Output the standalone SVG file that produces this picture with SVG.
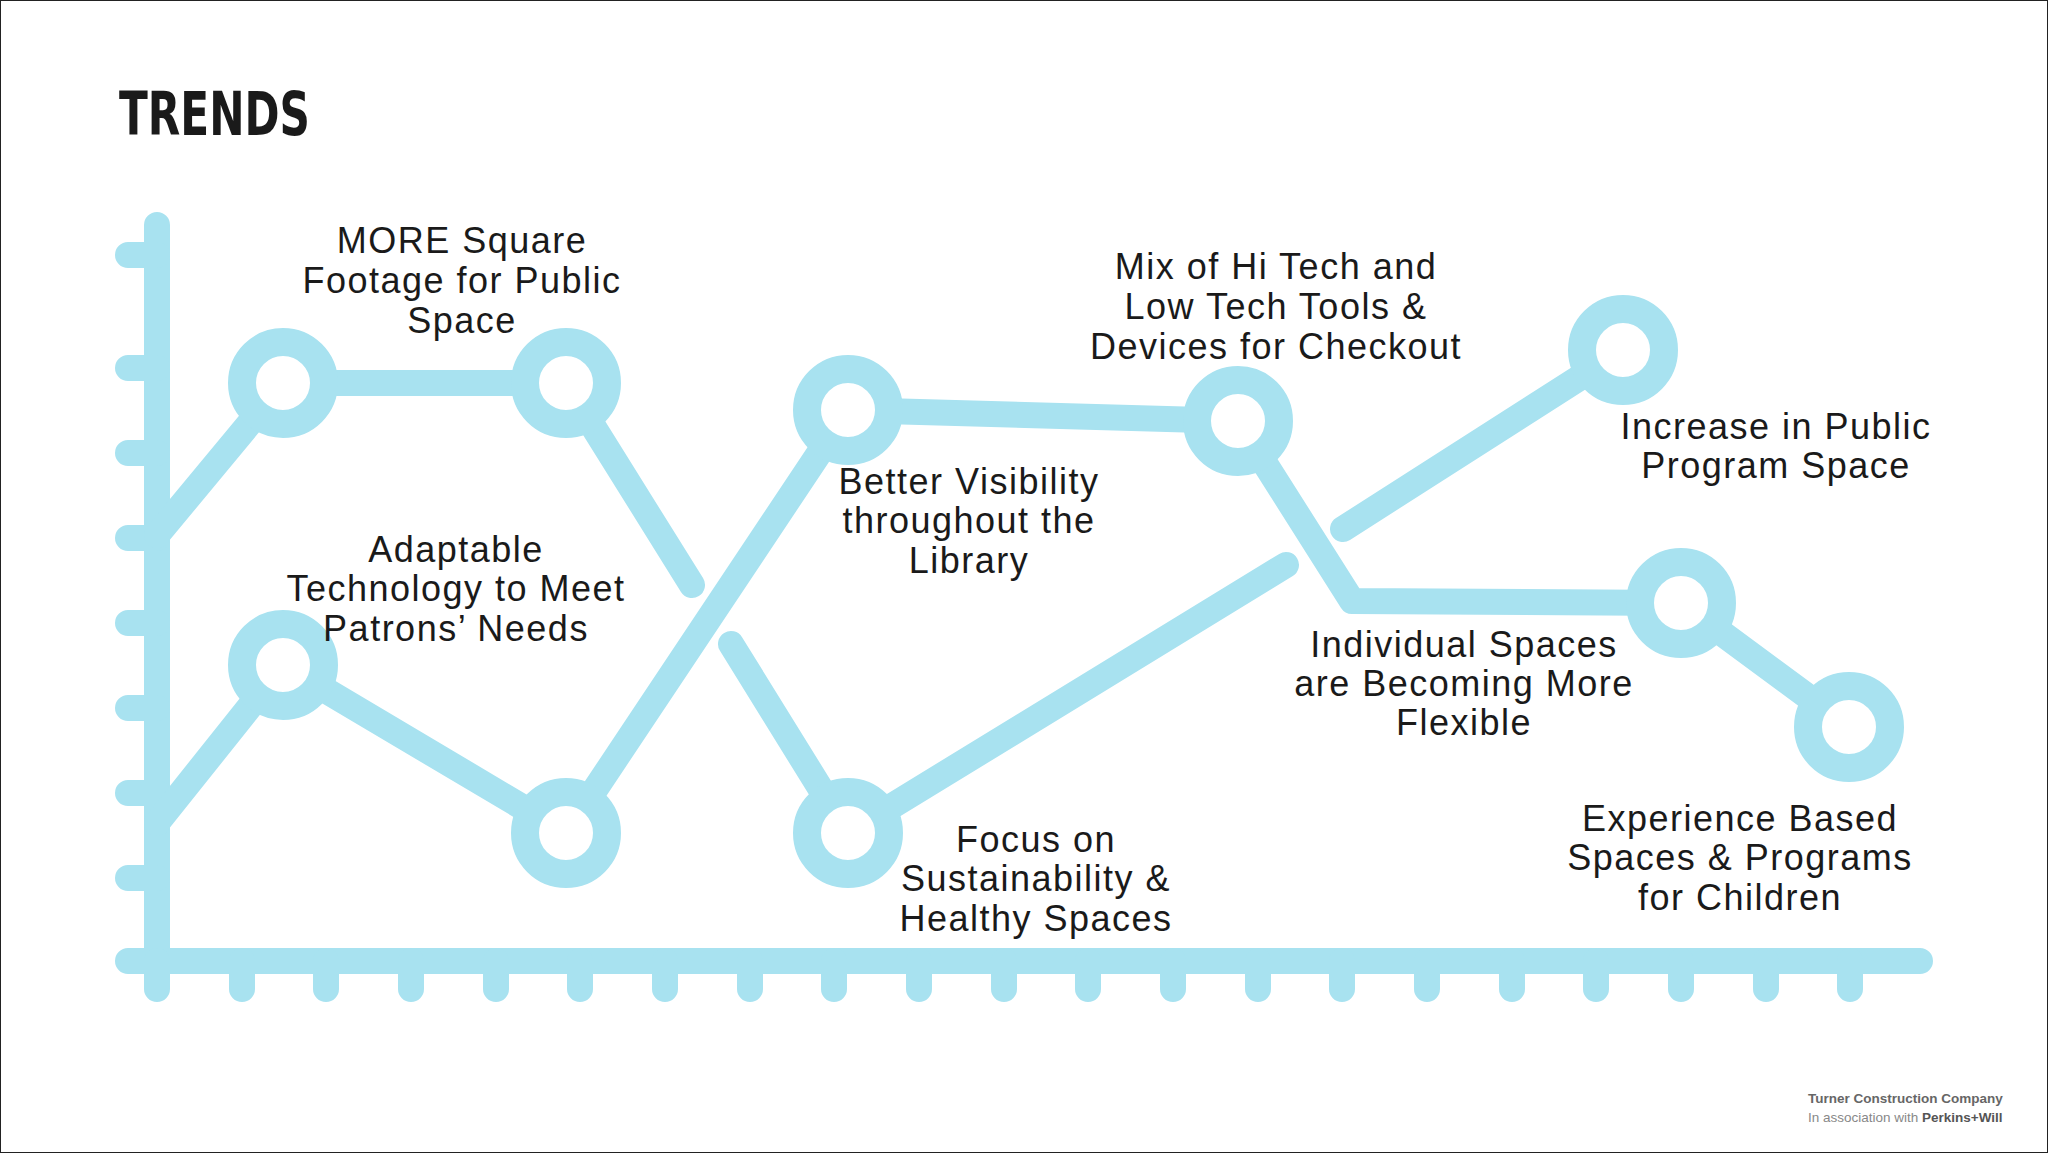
<svg xmlns="http://www.w3.org/2000/svg" width="2048" height="1153" viewBox="0 0 2048 1153">
<style>
.ln{fill:none;stroke:#a8e2f0;stroke-width:26;stroke-linecap:round;stroke-linejoin:round}
.rg{fill:#fff;stroke:#a8e2f0;stroke-width:28}
.t{font-family:"Liberation Sans",Arial,sans-serif;font-size:36px;fill:#1a1a1a;text-anchor:middle;letter-spacing:1.5px}
</style>
<rect x="0.5" y="0.5" width="2047" height="1152" fill="#fff" stroke="#222"/>
<text x="119" y="135" font-family="DejaVu Sans Condensed,Liberation Sans,sans-serif" font-weight="bold" font-size="60" fill="#1a1a1a" textLength="191" lengthAdjust="spacingAndGlyphs">TRENDS</text>
<g id="axes" class="ln">
<path d="M157 225V961H1920"/>
<path d="M128 255H157M128 368H157M128 453H157M128 538H157M128 623H157M128 708H157M128 793H157M128 878H157M128 961H157"/>
<path d="M157 961V989M242 961V989M326 961V989M411 961V989M496 961V989M580 961V989M665 961V989M750 961V989M834 961V989M919 961V989M1004 961V989M1088 961V989M1173 961V989M1258 961V989M1342 961V989M1427 961V989M1512 961V989M1596 961V989M1681 961V989M1766 961V989M1850 961V989"/>
</g>
<g id="connectors" class="ln">
<polyline points="157,535 283,383 566,383 692,585"/>
<polyline points="157,823 283,665 566,833 848,410 1238,421 1352,601 1681,603 1849,727"/>
<polyline points="731,644 848,833 1286,565"/>
<polyline points="1343,529 1623,350"/>
</g>
<g id="n1"><circle class="rg" cx="283" cy="383" r="41"/></g>
<g id="n2"><circle class="rg" cx="566" cy="383" r="41"/></g>
<g id="n3"><circle class="rg" cx="848" cy="410" r="41"/></g>
<g id="n4"><circle class="rg" cx="1238" cy="421" r="41"/></g>
<g id="n5"><circle class="rg" cx="1623" cy="350" r="41"/></g>
<g id="n6"><circle class="rg" cx="283" cy="665" r="41"/></g>
<g id="n7"><circle class="rg" cx="566" cy="833" r="41"/></g>
<g id="n8"><circle class="rg" cx="848" cy="833" r="41"/></g>
<g id="n9"><circle class="rg" cx="1681" cy="603" r="41"/></g>
<g id="n10"><circle class="rg" cx="1849" cy="727" r="41"/></g>
<g id="labels">
<text class="t" x="462" y="253">MORE Square<tspan x="462" y="293">Footage for Public</tspan><tspan x="462" y="333">Space</tspan></text>
<text class="t" x="456" y="562">Adaptable<tspan x="456" y="601">Technology to Meet</tspan><tspan x="456" y="641">Patrons’ Needs</tspan></text>
<text class="t" x="969" y="494">Better Visibility<tspan x="969" y="533">throughout the</tspan><tspan x="969" y="573">Library</tspan></text>
<text class="t" x="1276" y="279">Mix of Hi Tech and<tspan x="1276" y="319">Low Tech Tools &amp;</tspan><tspan x="1276" y="359">Devices for Checkout</tspan></text>
<text class="t" x="1776" y="439">Increase in Public<tspan x="1776" y="478">Program Space</tspan></text>
<text class="t" x="1464" y="657">Individual Spaces<tspan x="1464" y="696">are Becoming More</tspan><tspan x="1464" y="735">Flexible</tspan></text>
<text class="t" x="1036" y="852">Focus on<tspan x="1036" y="891">Sustainability &amp;</tspan><tspan x="1036" y="931">Healthy Spaces</tspan></text>
<text class="t" x="1740" y="831">Experience Based<tspan x="1740" y="870">Spaces &amp; Programs</tspan><tspan x="1740" y="910">for Children</tspan></text>
</g>
<g font-family="Liberation Sans,Arial,sans-serif" font-size="13.5" fill="#666">
<text x="1808" y="1103" font-weight="bold">Turner Construction Company</text>
<text x="1808" y="1122" fill="#888">In association with <tspan font-weight="bold" fill="#555">Perkins+Will</tspan></text>
</g>
</svg>
